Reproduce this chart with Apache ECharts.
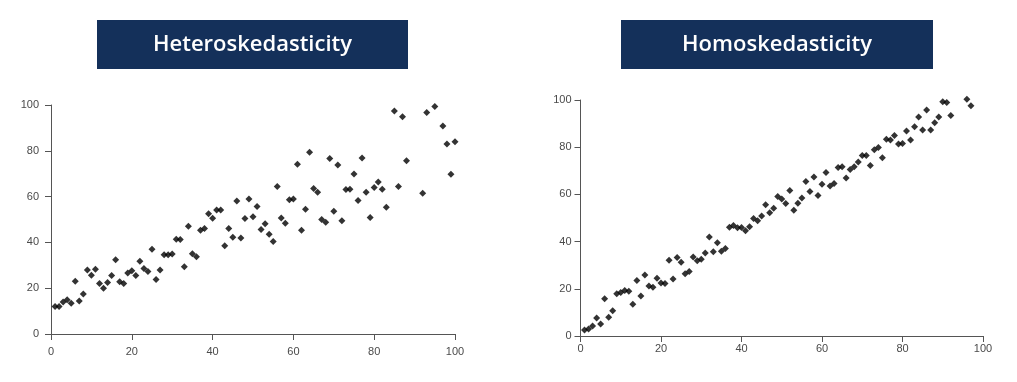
<!DOCTYPE html>
<html>
<head>
<meta charset="utf-8">
<script src="https://cdn.jsdelivr.net/npm/echarts@6/dist/echarts.min.js"></script>
<style>html,body{margin:0;padding:0;background:#fff}#c{width:1017px;height:382px}</style>
</head>
<body>
<div id="c"></div>
<script>
var titles = ['Heteroskedasticity', 'Homoskedasticity'];
var tickValues = [0, 20, 40, 60, 80, 100];

var heteroX = [1,2,3,4,5,6,7,8,9,10,11,12,13,14,15,16,17,18,19,20,21,22,23,24,25,26,27,28,29,30,31,32,33,34,35,36,37,38,39,40,41,42,43,44,45,46,47,48,49,50,51,52,53,54,55,56,57,58,59,60,61,62,63,64,65,66,67,68,69,70,71,72,73,74,75,76,77,78,79,80,81,82,83,85,86,87,88,92,93,95,97,98,99,100];
var heteroY = [12,12,14,15,13.4,23,14.4,17.5,28,25.7,28.3,22,20,22.5,25.6,32.4,22.8,22,26.6,27.6,25.6,31.8,28.6,27.3,37,23.8,28,34.6,34.6,34.9,41.4,41.3,29.4,47.1,35,33.7,45.3,46.1,52.5,50.6,54.1,54.1,38.5,46.1,42.3,58.1,41.9,50.4,58.9,51.2,55.7,45.6,48.1,43.6,40.4,64.4,50.7,48.4,58.6,58.9,74.1,45.3,54.5,79.4,63.5,61.9,50,48.8,76.6,53.6,73.8,49.4,63.1,63.2,69.9,58.3,76.9,61.9,50.9,64,66.4,63.2,55.4,97.4,64.4,94.9,75.7,61.5,96.7,99.3,90.8,83,69.8,83.9];

var homoX = [1,2,3,4,5,6,7,8,9,10,11,12,13,14,15,16,17,18,19,20,21,22,23,24,25,26,27,28,29,30,31,32,33,34,35,36,37,38,39,40,41,42,43,44,45,46,47,48,49,50,51,52,53,54,55,56,57,58,59,60,61,62,63,64,65,66,67,68,69,70,71,72,73,74,75,76,77,78,79,80,81,82,83,84,85,86,87,88,89,90,91,92,96,97];
var homoY = [2.5,3,4.2,7.6,5.1,15.8,7.9,10.7,17.9,18.4,19.3,19,13.5,23.5,17,25.9,21.2,20.7,24.5,22.5,22.2,32.1,24.2,33.3,31.2,26.4,27.3,33.5,31.9,32.5,35.2,41.9,35.7,39.5,35.9,37.1,46.1,46.8,45.9,46,44.6,46.3,49.8,48.8,50.9,55.6,52.2,54.1,59.1,58.1,56.1,61.6,53.3,56.3,58.5,65.5,61.2,67.4,59.5,64.3,69.3,63.6,64.6,71.4,71.7,67,70.6,71.7,73.7,76.5,76.5,72.2,78.9,79.9,75.5,83.4,83,85,81.4,81.6,86.9,83,88.7,92.8,87.3,95.8,87.3,90.4,92.8,99.3,98.9,93.4,100.3,97.6];

function pairs(xs, ys) { return xs.map(function (x, i) { return [x, ys[i]]; }); }

var labelStyle = { fontFamily: 'Liberation Sans, Arial, sans-serif', fontSize: 11, color: '#4a4a4a' };
var lineStyle = { color: '#555', width: 1 };

function ax(grid, margin) {
  return {
    type: 'value', gridIndex: grid, min: 0, max: 100, interval: 20,
    splitLine: { show: false },
    axisLine: { show: true, onZero: false, lineStyle: lineStyle },
    axisTick: { show: true, length: 6, lineStyle: lineStyle },
    axisLabel: Object.assign({ margin: margin }, labelStyle)
  };
}

function titleBox(x, y, w, h, text) {
  return {
    type: 'group',
    children: [
      { type: 'rect', shape: { x: x, y: y, width: w, height: h }, style: { fill: '#14305a' } },
      { type: 'text', x: x + w / 2, y: y + h / 2, style: { text: text, fill: '#fff', font: '600 22px "Open Sans", sans-serif', textAlign: 'center', textVerticalAlign: 'middle' } }
    ]
  };
}

var chart = echarts.init(document.getElementById('c'));
chart.setOption({
  animation: false,
  grid: [
    { left: 51, top: 105, width: 404, height: 229 },
    { left: 580.5, top: 100, width: 402.5, height: 236 }
  ],
  xAxis: [ax(0, 12), ax(1, 7)],
  yAxis: [ax(0, 12), ax(1, 9)],
  series: [
    { type: 'scatter', xAxisIndex: 0, yAxisIndex: 0, data: pairs(heteroX, heteroY), symbol: 'diamond', symbolSize: 7, clip: false, itemStyle: { color: '#000' } },
    { type: 'scatter', xAxisIndex: 1, yAxisIndex: 1, data: pairs(homoX, homoY), symbol: 'diamond', symbolSize: 7, clip: false, itemStyle: { color: '#000' } }
  ],
  graphic: [
    titleBox(97, 20, 311, 49, titles[0]),
    titleBox(621, 20, 312, 49, titles[1])
  ]
});
</script>
</body>
</html>
